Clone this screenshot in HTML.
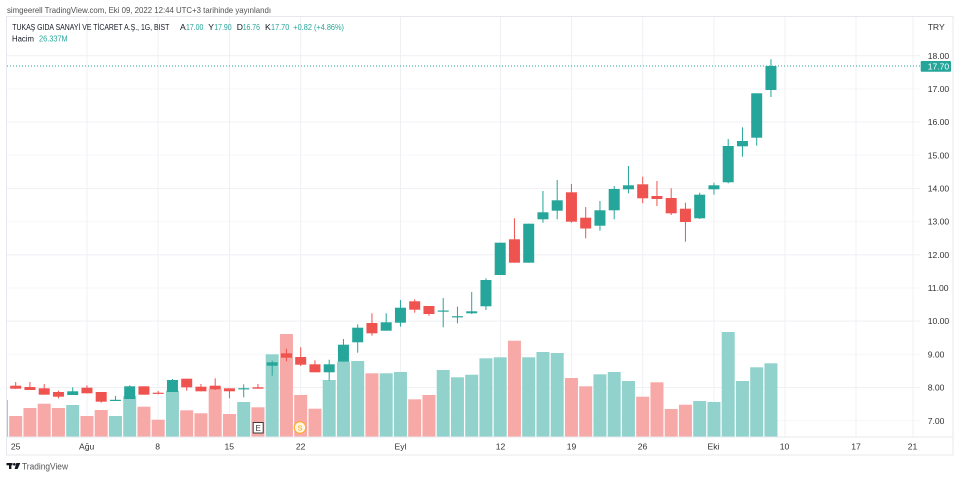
<!DOCTYPE html>
<html><head><meta charset="utf-8">
<style>
html,body{margin:0;padding:0;background:#fff;}
svg{display:block;}
text{font-family:"Liberation Sans","DejaVu Sans",sans-serif;}
</style></head>
<body>
<svg width="960" height="478" viewBox="0 0 960 478" xmlns="http://www.w3.org/2000/svg">
<rect width="960" height="478" fill="#fff"/>
<!-- header -->
<text x="7" y="13" font-size="8.2" fill="#505050" textLength="264" lengthAdjust="spacingAndGlyphs">simgeerell TradingView.com, Eki 09, 2022 12:44 UTC+3 tarihinde yayınlandı</text>
<!-- frame -->
<rect x="6.5" y="16.5" width="946.5" height="438.5" fill="none" stroke="#e6e8ee" stroke-width="1"/>
<!-- grid horizontal -->
<g fill="#eef0f4">
<rect x="7" y="55.2" width="913" height="1"/>
<rect x="7" y="121.5" width="913" height="1"/>
<rect x="7" y="187.9" width="913" height="1"/>
<rect x="7" y="254.3" width="913" height="1"/>
<rect x="7" y="320.6" width="913" height="1"/>
<rect x="7" y="387" width="913" height="1"/>
</g>
<g fill="#f6f7fa">
<rect x="7" y="88.4" width="913" height="1"/>
<rect x="7" y="154.7" width="913" height="1"/>
<rect x="7" y="221.1" width="913" height="1"/>
<rect x="7" y="287.5" width="913" height="1"/>
<rect x="7" y="353.8" width="913" height="1"/>
<rect x="7" y="420.2" width="913" height="1"/>
</g>
<!-- grid vertical -->
<g fill="#eef0f4">
<rect x="86.5" y="17" width="1" height="420"/>
<rect x="157.5" y="17" width="1" height="420"/>
<rect x="229" y="17" width="1" height="420"/>
<rect x="300.2" y="17" width="1" height="420"/>
<rect x="400" y="17" width="1" height="420"/>
<rect x="500" y="17" width="1" height="420"/>
<rect x="571" y="17" width="1" height="420"/>
<rect x="642.2" y="17" width="1" height="420"/>
<rect x="713.5" y="17" width="1" height="420"/>
<rect x="784.5" y="17" width="1" height="420"/>
<rect x="855.5" y="17" width="1" height="420"/>
<rect x="912.5" y="17" width="1" height="420"/>
</g>
<!-- title -->
<text x="12.3" y="30" font-size="8.6" fill="#131722" textLength="157" lengthAdjust="spacingAndGlyphs">TUKAŞ GIDA SANAYİ VE TİCARET A.Ş., 1G, BIST</text>
<g font-size="8.6">
<text x="180" y="30" fill="#131722">A</text>
<text x="186" y="30" fill="#26a69a" textLength="17.3" lengthAdjust="spacingAndGlyphs">17.00</text>
<text x="208.3" y="30" fill="#131722">Y</text>
<text x="214.2" y="30" fill="#26a69a" textLength="17.5" lengthAdjust="spacingAndGlyphs">17.90</text>
<text x="236.7" y="30" fill="#131722">D</text>
<text x="242.7" y="30" fill="#26a69a" textLength="17.3" lengthAdjust="spacingAndGlyphs">16.76</text>
<text x="265" y="30" fill="#131722">K</text>
<text x="271" y="30" fill="#26a69a" textLength="18.3" lengthAdjust="spacingAndGlyphs">17.70</text>
<text x="293.3" y="30" fill="#26a69a" textLength="50.7" lengthAdjust="spacingAndGlyphs">+0.82 (+4.86%)</text>
</g>
<text x="12" y="41.5" font-size="8.6" fill="#131722" textLength="22" lengthAdjust="spacingAndGlyphs">Hacim</text>
<text x="39" y="41.5" font-size="8.6" fill="#26a69a" textLength="28.7" lengthAdjust="spacingAndGlyphs">26.337M</text>
<!-- volume -->
<g>
<rect x="7" y="400" width="1" height="37" fill="#f7a9a7"/>
<rect x="9.2" y="416" width="13" height="21" fill="#f7a9a7"/>
<rect x="23.45" y="408" width="13" height="29" fill="#f7a9a7"/>
<rect x="37.7" y="403.7" width="13" height="33.3" fill="#f7a9a7"/>
<rect x="51.95" y="408" width="13" height="29" fill="#f7a9a7"/>
<rect x="66.2" y="405" width="13" height="32" fill="#92d2cc"/>
<rect x="80.45" y="416" width="13" height="21" fill="#f7a9a7"/>
<rect x="94.7" y="410" width="13" height="27" fill="#f7a9a7"/>
<rect x="108.95" y="416" width="13" height="21" fill="#92d2cc"/>
<rect x="123.2" y="396" width="13" height="41" fill="#92d2cc"/>
<rect x="137.45" y="406.7" width="13" height="30.3" fill="#f7a9a7"/>
<rect x="151.7" y="419.7" width="13" height="17.3" fill="#f7a9a7"/>
<rect x="165.95" y="390.7" width="13" height="46.3" fill="#92d2cc"/>
<rect x="180.2" y="410.3" width="13" height="26.7" fill="#f7a9a7"/>
<rect x="194.45" y="413.3" width="13" height="23.7" fill="#f7a9a7"/>
<rect x="208.7" y="388.7" width="13" height="48.3" fill="#f7a9a7"/>
<rect x="222.95" y="414" width="13" height="23" fill="#f7a9a7"/>
<rect x="237.2" y="402" width="13" height="35" fill="#92d2cc"/>
<rect x="251.45" y="407.3" width="13" height="29.7" fill="#f7a9a7"/>
<rect x="265.7" y="354.3" width="13" height="82.7" fill="#92d2cc"/>
<rect x="279.95" y="334" width="13" height="103" fill="#f7a9a7"/>
<rect x="294.2" y="395" width="13" height="42" fill="#f7a9a7"/>
<rect x="308.45" y="408.7" width="13" height="28.3" fill="#f7a9a7"/>
<rect x="322.7" y="380" width="13" height="57" fill="#92d2cc"/>
<rect x="336.95" y="361.7" width="13" height="75.3" fill="#92d2cc"/>
<rect x="351.2" y="361" width="13" height="76" fill="#92d2cc"/>
<rect x="365.45" y="373.3" width="13" height="63.7" fill="#f7a9a7"/>
<rect x="379.7" y="373.3" width="13" height="63.7" fill="#92d2cc"/>
<rect x="393.95" y="372" width="13" height="65" fill="#92d2cc"/>
<rect x="408.2" y="399.3" width="13" height="37.7" fill="#f7a9a7"/>
<rect x="422.45" y="395" width="13" height="42" fill="#f7a9a7"/>
<rect x="436.7" y="370" width="13" height="67" fill="#92d2cc"/>
<rect x="450.95" y="377.3" width="13" height="59.7" fill="#92d2cc"/>
<rect x="465.2" y="374.7" width="13" height="62.3" fill="#92d2cc"/>
<rect x="479.45" y="358.3" width="13" height="78.7" fill="#92d2cc"/>
<rect x="493.7" y="357.3" width="13" height="79.7" fill="#92d2cc"/>
<rect x="507.95" y="340.7" width="13" height="96.3" fill="#f7a9a7"/>
<rect x="522.2" y="357.3" width="13" height="79.7" fill="#92d2cc"/>
<rect x="536.45" y="352" width="13" height="85" fill="#92d2cc"/>
<rect x="550.7" y="353" width="13" height="84" fill="#92d2cc"/>
<rect x="564.95" y="378" width="13" height="59" fill="#f7a9a7"/>
<rect x="579.2" y="386.3" width="13" height="50.7" fill="#f7a9a7"/>
<rect x="593.45" y="374.3" width="13" height="62.7" fill="#92d2cc"/>
<rect x="607.7" y="372" width="13" height="65" fill="#92d2cc"/>
<rect x="621.95" y="381" width="13" height="56" fill="#92d2cc"/>
<rect x="636.2" y="396.7" width="13" height="40.3" fill="#f7a9a7"/>
<rect x="650.45" y="382.3" width="13" height="54.7" fill="#f7a9a7"/>
<rect x="664.7" y="409" width="13" height="28" fill="#f7a9a7"/>
<rect x="678.95" y="404.7" width="13" height="32.3" fill="#f7a9a7"/>
<rect x="693.2" y="401" width="13" height="36" fill="#92d2cc"/>
<rect x="707.45" y="402" width="13" height="35" fill="#92d2cc"/>
<rect x="721.7" y="332" width="13" height="105" fill="#92d2cc"/>
<rect x="735.95" y="381" width="13" height="56" fill="#92d2cc"/>
<rect x="750.2" y="367.3" width="13" height="69.7" fill="#92d2cc"/>
<rect x="764.45" y="363.3" width="13" height="73.7" fill="#92d2cc"/>
</g>
<!-- candles: wicks -->
<g>
<rect x="15.2" y="382" width="1" height="7" fill="#ef5350"/>
<rect x="29.45" y="382" width="1" height="8" fill="#ef5350"/>
<rect x="43.7" y="384" width="1" height="10.7" fill="#ef5350"/>
<rect x="57.95" y="390.7" width="1" height="7.6" fill="#ef5350"/>
<rect x="72.2" y="387.3" width="1" height="7.7" fill="#26a69a"/>
<rect x="86.45" y="385.3" width="1" height="8" fill="#ef5350"/>
<rect x="100.7" y="392" width="1" height="10.7" fill="#ef5350"/>
<rect x="114.95" y="396" width="1" height="4.7" fill="#26a69a"/>
<rect x="129.2" y="385.3" width="1" height="13.7" fill="#26a69a"/>
<rect x="143.45" y="386.3" width="1" height="8.4" fill="#ef5350"/>
<rect x="157.7" y="391" width="1" height="3.3" fill="#ef5350"/>
<rect x="171.95" y="379" width="1" height="13" fill="#26a69a"/>
<rect x="186.2" y="378.7" width="1" height="12" fill="#ef5350"/>
<rect x="200.45" y="384" width="1" height="7.3" fill="#ef5350"/>
<rect x="214.7" y="378.3" width="1" height="11.7" fill="#ef5350"/>
<rect x="228.95" y="388.3" width="1" height="10" fill="#ef5350"/>
<rect x="243.2" y="384.3" width="1" height="13" fill="#26a69a"/>
<rect x="257.45" y="384" width="1" height="4.7" fill="#ef5350"/>
<rect x="271.7" y="360.7" width="1" height="15" fill="#26a69a"/>
<rect x="285.95" y="348.7" width="1" height="12.6" fill="#ef5350"/>
<rect x="300.2" y="347.3" width="1" height="18.7" fill="#ef5350"/>
<rect x="314.45" y="360.3" width="1" height="12" fill="#ef5350"/>
<rect x="328.7" y="359.7" width="1" height="21" fill="#26a69a"/>
<rect x="342.95" y="339" width="1" height="22.7" fill="#26a69a"/>
<rect x="357.2" y="324.3" width="1" height="28.4" fill="#26a69a"/>
<rect x="371.45" y="313.3" width="1" height="22.4" fill="#ef5350"/>
<rect x="385.7" y="313.3" width="1" height="17.4" fill="#26a69a"/>
<rect x="399.95" y="300" width="1" height="26.7" fill="#26a69a"/>
<rect x="414.2" y="299.3" width="1" height="13.4" fill="#ef5350"/>
<rect x="428.45" y="306" width="1" height="9.7" fill="#ef5350"/>
<rect x="442.7" y="298" width="1" height="29.3" fill="#26a69a"/>
<rect x="456.95" y="306.7" width="1" height="16.6" fill="#26a69a"/>
<rect x="471.2" y="292" width="1" height="22" fill="#26a69a"/>
<rect x="485.45" y="278.3" width="1" height="31.7" fill="#26a69a"/>
<rect x="499.7" y="242.7" width="1" height="32.3" fill="#26a69a"/>
<rect x="513.95" y="218.3" width="1" height="44.4" fill="#ef5350"/>
<rect x="528.2" y="223.7" width="1" height="39" fill="#26a69a"/>
<rect x="542.45" y="191" width="1" height="31.7" fill="#26a69a"/>
<rect x="556.7" y="180" width="1" height="39.3" fill="#26a69a"/>
<rect x="570.95" y="184" width="1" height="38.7" fill="#ef5350"/>
<rect x="585.2" y="207" width="1" height="31.3" fill="#ef5350"/>
<rect x="599.45" y="201" width="1" height="29.7" fill="#26a69a"/>
<rect x="613.7" y="186" width="1" height="33.3" fill="#26a69a"/>
<rect x="627.95" y="166" width="1" height="27.3" fill="#26a69a"/>
<rect x="642.2" y="176.7" width="1" height="26.6" fill="#ef5350"/>
<rect x="656.45" y="181" width="1" height="25" fill="#ef5350"/>
<rect x="670.7" y="188.3" width="1" height="26.7" fill="#ef5350"/>
<rect x="684.95" y="202.7" width="1" height="39" fill="#ef5350"/>
<rect x="699.2" y="192.7" width="1" height="26.3" fill="#26a69a"/>
<rect x="713.45" y="182.7" width="1" height="12" fill="#26a69a"/>
<rect x="727.7" y="139" width="1" height="44.3" fill="#26a69a"/>
<rect x="741.95" y="127.3" width="1" height="29.4" fill="#26a69a"/>
<rect x="756.2" y="93.3" width="1" height="52.4" fill="#26a69a"/>
<rect x="770.45" y="59.3" width="1" height="37.7" fill="#26a69a"/>
</g>
<!-- candles: bodies -->
<g>
<rect x="10.2" y="385.7" width="11" height="3" fill="#ef5350"/>
<rect x="24.45" y="387" width="11" height="3" fill="#ef5350"/>
<rect x="38.7" y="388.3" width="11" height="6.4" fill="#ef5350"/>
<rect x="52.95" y="392" width="11" height="4.7" fill="#ef5350"/>
<rect x="67.2" y="391.3" width="11" height="3.7" fill="#26a69a"/>
<rect x="81.45" y="387.7" width="11" height="5.6" fill="#ef5350"/>
<rect x="95.7" y="392" width="11" height="9.7" fill="#ef5350"/>
<rect x="109.95" y="399.8" width="11" height="1.2" fill="#26a69a"/>
<rect x="124.2" y="386.3" width="11" height="12.7" fill="#26a69a"/>
<rect x="138.45" y="386.3" width="11" height="8.4" fill="#ef5350"/>
<rect x="152.7" y="392.7" width="11" height="1.2" fill="#ef5350"/>
<rect x="166.95" y="380" width="11" height="12" fill="#26a69a"/>
<rect x="181.2" y="378.7" width="11" height="8.6" fill="#ef5350"/>
<rect x="195.45" y="386.7" width="11" height="4.6" fill="#ef5350"/>
<rect x="209.7" y="385.7" width="11" height="3.6" fill="#ef5350"/>
<rect x="223.95" y="388.3" width="11" height="3" fill="#ef5350"/>
<rect x="238.2" y="388.2" width="11" height="1.2" fill="#26a69a"/>
<rect x="252.45" y="387.3" width="11" height="1.4" fill="#ef5350"/>
<rect x="266.7" y="362.3" width="11" height="3.4" fill="#26a69a"/>
<rect x="280.95" y="353.3" width="11" height="4.4" fill="#ef5350"/>
<rect x="295.2" y="357" width="11" height="7.7" fill="#ef5350"/>
<rect x="309.45" y="364.3" width="11" height="8" fill="#ef5350"/>
<rect x="323.7" y="364.3" width="11" height="8" fill="#26a69a"/>
<rect x="337.95" y="344.7" width="11" height="17" fill="#26a69a"/>
<rect x="352.2" y="327.7" width="11" height="14.6" fill="#26a69a"/>
<rect x="366.45" y="323" width="11" height="10.3" fill="#ef5350"/>
<rect x="380.7" y="322.3" width="11" height="8.4" fill="#26a69a"/>
<rect x="394.95" y="307.7" width="11" height="15" fill="#26a69a"/>
<rect x="409.2" y="301.3" width="11" height="8.4" fill="#ef5350"/>
<rect x="423.45" y="306" width="11" height="8" fill="#ef5350"/>
<rect x="437.7" y="310.5" width="11" height="1.2" fill="#26a69a"/>
<rect x="451.95" y="316.2" width="11" height="1.2" fill="#26a69a"/>
<rect x="466.2" y="311.3" width="11" height="2" fill="#26a69a"/>
<rect x="480.45" y="280" width="11" height="26.3" fill="#26a69a"/>
<rect x="494.7" y="242.7" width="11" height="32.3" fill="#26a69a"/>
<rect x="508.95" y="239.3" width="11" height="23.4" fill="#ef5350"/>
<rect x="523.2" y="223.7" width="11" height="39" fill="#26a69a"/>
<rect x="537.45" y="212.3" width="11" height="7" fill="#26a69a"/>
<rect x="551.7" y="200.3" width="11" height="10.4" fill="#26a69a"/>
<rect x="565.95" y="192.3" width="11" height="29.4" fill="#ef5350"/>
<rect x="580.2" y="217.7" width="11" height="10.8" fill="#ef5350"/>
<rect x="594.45" y="210.3" width="11" height="15.4" fill="#26a69a"/>
<rect x="608.7" y="189" width="11" height="21.3" fill="#26a69a"/>
<rect x="622.95" y="185.3" width="11" height="4" fill="#26a69a"/>
<rect x="637.2" y="184.3" width="11" height="14" fill="#ef5350"/>
<rect x="651.45" y="196" width="11" height="3" fill="#ef5350"/>
<rect x="665.7" y="198" width="11" height="15.3" fill="#ef5350"/>
<rect x="679.95" y="208.7" width="11" height="13.3" fill="#ef5350"/>
<rect x="694.2" y="194.7" width="11" height="23.6" fill="#26a69a"/>
<rect x="708.45" y="185.3" width="11" height="4" fill="#26a69a"/>
<rect x="722.7" y="146" width="11" height="36.3" fill="#26a69a"/>
<rect x="736.95" y="141" width="11" height="5.3" fill="#26a69a"/>
<rect x="751.2" y="93.3" width="11" height="44.4" fill="#26a69a"/>
<rect x="765.45" y="66" width="11" height="24" fill="#26a69a"/>
</g>
<!-- markers -->
<rect x="253.2" y="422.5" width="10" height="10.5" fill="#fff" stroke="#3a3a3a" stroke-width="1"/>
<text x="258.2" y="431" font-size="8" fill="#3a3a3a" text-anchor="middle">E</text>
<circle cx="300" cy="427.5" r="5.8" fill="#fff8e6" stroke="#ffa726" stroke-width="1.1"/>
<text x="300" y="430.5" font-size="7.5" fill="#ff9800" text-anchor="middle">S</text>
<!-- last price line -->
<line x1="7" y1="66" x2="920" y2="66" stroke="#26a69a" stroke-width="1" stroke-dasharray="1,2"/>
<!-- time axis -->
<rect x="7" y="436.5" width="946" height="1" fill="#e6e8ee"/>
<g font-size="8.6" fill="#333" text-anchor="middle">
<text x="15.7" y="449.5">25</text>
<text x="86.7" y="449.5">Ağu</text>
<text x="157.7" y="449.5">8</text>
<text x="229.3" y="449.5">15</text>
<text x="300.7" y="449.5">22</text>
<text x="400.5" y="449.5">Eyl</text>
<text x="500.5" y="449.5">12</text>
<text x="571.5" y="449.5">19</text>
<text x="642.5" y="449.5">26</text>
<text x="713.5" y="449.5">Eki</text>
<text x="784.5" y="449.5">10</text>
<text x="856" y="449.5">17</text>
<text x="912.5" y="449.5">21</text>
</g>
<!-- price axis -->
<g font-size="8.6" fill="#333">
<text x="927.7" y="30">TRY</text>
<text x="927.7" y="58.8">18.00</text>
<text x="927.7" y="92">17.00</text>
<text x="927.7" y="125.1">16.00</text>
<text x="927.7" y="158.3">15.00</text>
<text x="927.7" y="191.5">14.00</text>
<text x="927.7" y="224.7">13.00</text>
<text x="927.7" y="257.9">12.00</text>
<text x="927.7" y="291.1">11.00</text>
<text x="927.7" y="324.2">10.00</text>
<text x="927.7" y="357.4">9.00</text>
<text x="927.7" y="390.6">8.00</text>
<text x="927.7" y="423.8">7.00</text>
</g>
<rect x="920.7" y="61" width="30.3" height="10.7" rx="1" fill="#26a69a"/>
<text x="927.7" y="69.3" font-size="8.6" fill="#fff">17.70</text>
<!-- logo -->
<g fill="#131722">
<rect x="6.5" y="463" width="6" height="2.3"/>
<rect x="9" y="463" width="2.4" height="6"/>
<circle cx="14.3" cy="464.3" r="1.3"/>
<polygon points="16.3,463 20.3,463 17.6,469 14.6,469"/>
</g>
<text x="22" y="469.5" font-size="9" fill="#555" textLength="46" lengthAdjust="spacingAndGlyphs">TradingView</text>
</svg>
</body></html>
